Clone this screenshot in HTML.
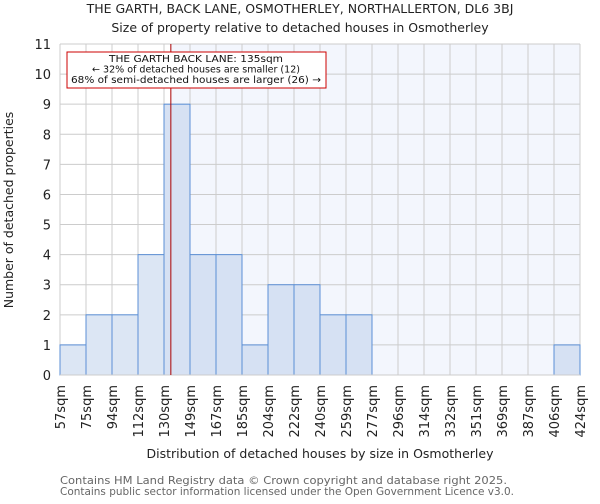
<!DOCTYPE html>
<html><head><meta charset="utf-8"><style>
body{margin:0;background:#fff;font-family:"DejaVu Sans","Liberation Sans",sans-serif}
</style></head><body>
<svg id="chart" width="600" height="500" xmlns="http://www.w3.org/2000/svg" font-family="DejaVu Sans, Liberation Sans, sans-serif">
<text x="300" y="13" text-anchor="middle" font-size="12.5" fill="#222">THE GARTH, BACK LANE, OSMOTHERLEY, NORTHALLERTON, DL6 3BJ</text>
<text x="300" y="32" text-anchor="middle" font-size="12.5" fill="#222">Size of property relative to detached houses in Osmotherley</text>
<g id="plot"></g>
<text x="320" y="458" text-anchor="middle" font-size="12.5" fill="#222">Distribution of detached houses by size in Osmotherley</text>
<text transform="translate(13,210) rotate(-90)" text-anchor="middle" font-size="12.5" fill="#222">Number of detached properties</text>
<text x="60" y="484" font-size="10.8" fill="#666" textLength="447" lengthAdjust="spacingAndGlyphs">Contains HM Land Registry data © Crown copyright and database right 2025.</text>
<text x="60" y="495" font-size="10.8" fill="#666" textLength="454" lengthAdjust="spacingAndGlyphs">Contains public sector information licensed under the Open Government Licence v3.0.</text>
</svg>
<script>
const categories=["57sqm","75sqm","94sqm","112sqm","130sqm","149sqm","167sqm","185sqm","204sqm","222sqm","240sqm","259sqm","277sqm","296sqm","314sqm","332sqm","351sqm","369sqm","387sqm","406sqm","424sqm"];
const counts=[1,2,2,4,9,4,4,1,3,3,2,2,0,0,0,0,0,0,0,1];
const yTicks=[0,1,2,3,4,5,6,7,8,9,10,11];
const propertySize=135;
const binEdges=[57,75,94,112,130,149,167,185,204,222,240,259,277,296,314,332,351,369,387,406,424];

const NS="http://www.w3.org/2000/svg";
const L=60,R=580,T=44,B=375,yMax=11,n=counts.length;
const bw=(R-L)/n;
const xIdx=i=>L+i*bw;
const y=v=>B-(v/yMax)*(B-T);
function xVal(v){for(let i=0;i<binEdges.length-1;i++){if(v<=binEdges[i+1])return xIdx(i)+(v-binEdges[i])/(binEdges[i+1]-binEdges[i])*bw;}return R;}
const g=document.getElementById('plot');
function mk(t,a){const e=document.createElementNS(NS,t);for(const k in a)e.setAttribute(k,a[k]);g.appendChild(e);return e;}
const xm=xVal(propertySize);
let e;
e=mk('rect',{x:L,y:T,width:xm-L,height:B-T,fill:'#ffffff'});


e=mk('rect',{x:xm,y:T,width:R-xm,height:B-T,fill:'#f3f6fd'});


yTicks.forEach(t=>{
 e=mk('line',{x1:L,x2:R,y1:y(t),y2:y(t),stroke:'#cccccc','stroke-width':1});
 
 
 e=mk('text',{x:L-9,y:y(t)+5,'text-anchor':'end','font-size':13,fill:'#222'});
 e.textContent=t;
 
 
});
for(let i=0;i<=n;i++){
 e=mk('line',{x1:xIdx(i),x2:xIdx(i),y1:T,y2:B,stroke:'#cccccc','stroke-width':1});
 
 
}
counts.forEach((c,i)=>{
 if(c<=0)return;
 const left=xIdx(i)+bw/2<xm;
 e=mk('rect',{x:xIdx(i),y:y(c),width:bw,height:B-y(c),fill:left?'#dce6f4':'#d6e1f3',stroke:'#5b8fd6','stroke-width':1});
 
 
});
e=mk('line',{x1:L,x2:R,y1:B,y2:B,stroke:'#cccccc'});


categories.forEach((c,i)=>{
 const x=xIdx(i);
 e=mk('text',{transform:`translate(${x+5},${B+10}) rotate(-90)`,'text-anchor':'end','font-size':13,fill:'#222'});
 e.textContent=c;
 
 
});
e=mk('line',{x1:xm,x2:xm,y1:T,y2:B,stroke:'#aa0000','stroke-width':1});


e=mk('rect',{x:67,y:52,width:259,height:36,fill:'#fff',stroke:'#cc0000','stroke-width':1});


const lines=["THE GARTH BACK LANE: "+propertySize+"sqm","← 32% of detached houses are smaller (12)","68% of semi-detached houses are larger (26) →"];
const lens=[174,208,250];
lines.forEach((t,k)=>{
 e=mk('text',{x:196,y:62+k*10.5,'text-anchor':'middle','font-size':10,fill:'#111',textLength:lens[k],lengthAdjust:'spacingAndGlyphs'});
 e.textContent=t;
 
 
});
</script>
</body></html>
